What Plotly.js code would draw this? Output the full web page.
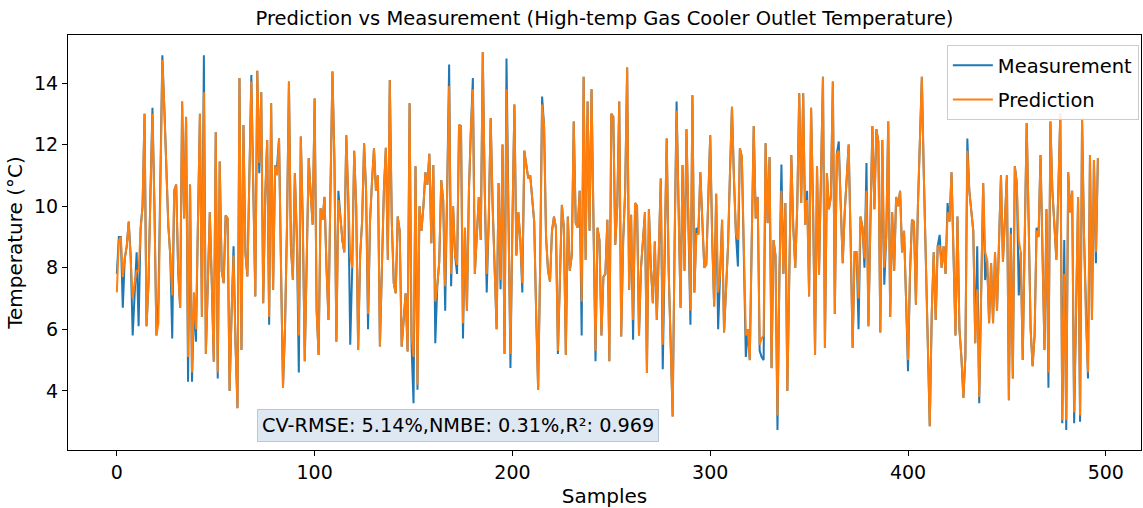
<!DOCTYPE html>
<html>
<head>
<meta charset="utf-8">
<script src="https://cdn.plot.ly/plotly-3.0.1.min.js"></script>
<style>html,body{margin:0;padding:0;background:#fff;}#chart{width:1143px;height:508px;}</style>
</head>
<body>
<div id="chart"></div>
<script>
const measurement = [
7.8, 9.0, 9.0, 6.7, 8.3, 8.7, 9.5, 8.4, 5.8, 7.2,
8.5, 6.1, 9.3, 10.0, 13.0, 6.1, 7.5, 10.5, 13.2, 10.0,
5.8, 6.9, 11.0, 14.9, 13.2, 11.1, 9.4, 8.4, 5.7, 10.5,
10.7, 7.9, 6.7, 13.4, 9.6, 12.9, 4.3, 10.7, 4.3,
6.9, 5.6, 9.5, 13.0, 6.4, 14.9, 5.2, 7.5, 9.8, 7.5, 4.95,
12.4, 4.4, 11.45, 7.9, 7.5, 9.7, 9.6, 4.0, 6.5, 8.7,
5.5, 3.44, 14.16, 5.33, 12.64, 8.47, 7.72, 11.1, 14.26, 10.5,
7.07, 14.4, 11.07, 13.7, 6.85, 10.3, 12.15, 6.15, 13.34, 7.28, 11.3,
11.3, 12.2, 8.0, 4.1, 6.0, 9.3, 14.05, 8.7, 7.6, 11.07,
9.0, 4.6, 12.26, 9.5, 4.96, 8.3, 11.56, 10.4, 9.4, 13.5,
6.63, 5.17, 9.93, 9.56, 10.3, 8.0, 6.3, 10.5, 14.37, 11.5,
5.6, 10.5, 9.66, 8.9, 8.5, 12.3, 10.2, 5.5, 8.0, 11.8, 10.0, 5.33, 8.4,
9.5, 12.04, 10.5, 6.0, 9.5, 10.8, 11.88, 10.5, 11.0, 5.44,
8.5, 10.5, 11.9, 8.26, 14.1, 9.5, 7.5, 7.17, 9.66, 9.2,
5.44, 6.5, 7.17, 5.28, 13.34, 5.44, 3.6, 11.3, 4.04, 10.0,
9.2, 10.0, 11.1, 10.7, 11.7, 8.8, 11.34, 5.55, 7.4, 8.2, 10.85, 10.2,
6.6, 10.5, 14.6, 7.4, 10.0, 8.4, 7.8, 12.64, 12.6, 5.7,
9.3, 6.6, 10.5, 12.5, 14.16, 7.8, 9.2, 10.3, 8.9, 15.0,
10.5, 7.2, 9.5, 12.86, 10.0, 7.9, 6.0, 10.75, 7.3, 12.0,
5.2, 14.8, 9.0, 4.74, 9.5, 13.3, 8.4, 9.8, 8.9, 7.2, 11.8, 11.3, 10.9,
11.0, 10.2, 9.5, 6.5, 4.04, 8.0, 13.56, 12.6, 9.0, 7.9,
7.55, 9.2, 9.66, 9.3, 5.2, 7.6, 10.04, 9.3, 5.17, 9.66,
7.9, 8.4, 12.75, 9.45, 9.3, 10.5, 5.8, 14.2, 8.26, 13.4,
9.2, 13.8, 9.0, 4.96, 9.3, 8.9, 5.8, 7.7, 7.8, 9.56, 4.96, 13.0,
12.9, 8.75, 10.0, 13.4, 5.77, 8.9, 10.5, 14.5, 7.28, 9.72,
5.66, 10.1, 10.0, 5.8, 8.0, 9.0, 9.8, 4.58, 9.9, 8.0,
6.85, 8.85, 6.3, 8.5, 10.9, 4.7, 8.4, 12.2, 7.9, 5.7,
3.17, 8.8, 13.4, 10.0, 6.7, 11.34, 7.9, 12.5, 8.9, 6.15, 13.6, 7.2, 9.3,
9.1, 11.1, 9.6, 8.0, 8.1, 10.0, 12.3, 8.9, 6.74, 10.4,
6.0, 7.8, 9.56, 5.9, 7.2, 8.7, 11.1, 13.23, 10.9, 9.1,
8.04, 11.88, 11.6, 8.4, 5.1, 6.0, 5.0, 8.9, 12.6, 9.6,
10.3, 5.3, 5.1, 5.0, 12.04, 9.45, 11.6, 4.74, 8.9, 8.4, 2.73, 7.8,
11.35, 7.8, 10.1, 4.0, 7.8, 11.66, 9.3, 8.0, 10.0, 13.67,
10.1, 13.67, 9.4, 10.5, 7.07, 13.2, 10.0, 5.17, 11.3, 7.77,
11.0, 14.2, 5.4, 11.07, 9.9, 10.3, 14.05, 6.5, 11.7, 12.1,
10.0, 8.15, 9.8, 11.0, 12.0, 8.9, 5.4, 8.5, 8.5, 6.0, 9.66, 9.3,
8.0, 11.4, 6.1, 9.5, 12.6, 9.9, 12.5, 12.1, 5.9, 12.15,
7.45, 9.0, 12.75, 6.4, 9.8, 7.9, 10.3, 10.0, 10.5, 8.5,
9.2, 7.0, 4.64, 7.8, 9.56, 9.5, 6.8, 10.0, 12.5, 14.2,
11.0, 8.0, 5.5, 2.85, 6.5, 8.5, 6.3, 8.7, 9.07, 8.0, 8.7, 7.8, 10.1,
9.5, 11.1, 8.5, 5.8, 9.66, 6.0, 5.1, 3.77, 5.1, 12.2,
10.5, 9.8, 9.2, 5.55, 8.7, 3.6, 8.0, 10.75, 7.6, 8.26,
6.2, 8.15, 6.2, 8.5, 6.6, 8.9, 11.0, 8.2, 9.7, 11.0,
3.7, 9.3, 4.4, 11.3, 10.75, 7.1, 8.5, 5.0, 8.9, 12.7, 9.5, 6.0,
4.8, 5.8, 9.3, 9.0, 11.66, 8.9, 5.33, 9.9, 4.1, 12.75,
10.5, 9.4, 8.26, 10.5, 13.0, 2.95, 8.9, 2.73, 11.1, 9.8,
10.5, 2.95, 7.0, 10.3, 3.0, 12.86, 9.0, 6.2, 4.4, 11.66, 6.3, 11.5, 8.15, 11.56
];

const prediction = [
7.2, 8.9, 9.0, 7.7, 8.3, 8.7, 9.5, 8.4, 7.0, 7.5,
7.9, 7.9, 9.2, 10.0, 13.0, 6.1, 7.5, 10.4, 13.0, 10.0,
5.8, 6.2, 11.0, 14.75, 13.2, 11.1, 9.4, 8.4, 7.1, 10.5,
10.7, 7.9, 6.7, 13.4, 9.6, 12.9, 5.1, 10.7, 4.6,
7.2, 6.0, 9.5, 13.0, 6.4, 13.7, 5.2, 7.5, 9.8, 7.5, 4.95,
12.4, 4.6, 11.45, 7.9, 7.5, 9.7, 9.6, 4.0, 6.5, 8.4,
5.5, 3.44, 14.16, 5.33, 12.64, 8.47, 7.72, 11.1, 14.05, 10.5,
7.07, 14.4, 11.4, 13.7, 6.85, 10.3, 12.15, 6.4, 13.34, 7.28, 11.3,
11.0, 12.2, 8.0, 4.1, 6.0, 9.3, 14.05, 8.7, 7.6, 11.07,
9.0, 5.8, 12.26, 9.5, 4.96, 8.3, 11.56, 10.4, 9.4, 13.5,
6.63, 5.17, 9.93, 9.56, 10.3, 8.0, 6.3, 10.5, 14.37, 11.5,
5.6, 10.2, 9.66, 8.9, 8.5, 12.3, 10.2, 8.4, 8.0, 11.8, 10.0, 5.33, 8.4,
9.5, 12.04, 10.5, 6.5, 9.5, 10.8, 11.88, 10.5, 11.0, 5.44,
8.5, 10.5, 11.9, 8.26, 14.1, 9.5, 7.5, 7.17, 9.66, 9.2,
5.44, 6.5, 7.17, 5.28, 13.34, 5.8, 5.1, 11.3, 4.2, 10.0,
9.2, 10.0, 11.1, 10.7, 11.7, 8.8, 11.34, 6.9, 7.4, 8.2, 10.85, 10.2,
7.4, 10.5, 13.9, 7.8, 10.0, 8.4, 8.1, 12.64, 12.6, 6.2,
9.3, 6.6, 10.5, 12.5, 13.8, 7.8, 9.2, 10.3, 8.9, 15.0,
10.5, 7.8, 9.5, 12.86, 10.0, 7.9, 6.0, 10.75, 7.6, 12.0,
5.2, 13.8, 9.0, 5.2, 9.5, 13.3, 8.4, 9.8, 8.9, 7.5, 11.8, 11.3, 10.9,
11.0, 10.2, 9.5, 6.5, 4.04, 8.0, 13.3, 12.6, 9.0, 7.9,
7.55, 9.2, 9.66, 9.3, 5.3, 7.6, 10.04, 9.3, 5.17, 9.66,
7.9, 8.4, 12.75, 9.45, 9.3, 10.5, 6.9, 14.2, 8.26, 13.4,
9.2, 13.8, 9.0, 5.3, 9.3, 8.9, 5.8, 7.7, 7.8, 9.56, 4.96, 13.0,
12.9, 8.75, 10.0, 13.4, 5.77, 8.9, 10.5, 14.5, 7.28, 9.72,
6.3, 10.1, 10.0, 5.8, 8.0, 9.0, 9.8, 4.58, 9.9, 8.0,
6.85, 8.85, 6.3, 8.5, 10.9, 5.5, 8.4, 12.2, 7.9, 5.7,
3.17, 8.8, 13.1, 10.0, 6.7, 11.34, 7.9, 12.5, 8.9, 6.6, 13.6, 7.2, 9.1,
9.1, 11.1, 9.6, 8.0, 8.1, 10.0, 12.3, 8.9, 6.74, 10.4,
7.2, 7.8, 9.56, 5.9, 7.2, 8.7, 11.1, 13.23, 10.9, 9.1,
8.9, 11.88, 11.6, 8.4, 5.8, 6.0, 5.0, 8.9, 12.6, 9.6,
10.3, 5.5, 5.7, 5.8, 12.04, 9.45, 11.6, 4.74, 8.9, 8.4, 3.2, 7.8,
10.5, 7.8, 10.1, 4.0, 7.8, 11.66, 9.3, 8.0, 10.0, 13.67,
10.1, 13.67, 9.4, 10.2, 7.07, 13.2, 10.0, 5.17, 11.3, 7.77,
11.0, 14.2, 5.4, 11.07, 9.9, 10.3, 14.05, 6.5, 11.7, 11.8,
10.0, 8.15, 9.8, 11.0, 12.0, 8.9, 5.4, 8.5, 8.5, 7.0, 9.66, 9.3,
8.3, 10.5, 6.1, 9.5, 12.6, 9.9, 12.5, 12.1, 5.9, 12.15,
8.0, 9.0, 12.75, 6.4, 9.8, 7.9, 10.3, 10.0, 10.5, 8.5,
9.2, 7.0, 5.0, 7.8, 9.56, 9.5, 6.8, 10.0, 12.5, 14.2,
11.0, 8.0, 5.5, 2.85, 6.5, 8.5, 6.3, 8.7, 8.7, 8.0, 8.7, 7.8, 9.8,
9.5, 11.1, 8.5, 5.8, 9.66, 6.0, 5.1, 3.77, 5.1, 11.8,
10.5, 9.8, 9.2, 5.55, 7.3, 3.8, 8.0, 10.75, 8.5, 8.26,
6.2, 8.15, 6.2, 8.5, 6.6, 8.9, 11.0, 8.2, 9.7, 11.0,
3.7, 9.1, 4.4, 11.3, 10.75, 8.9, 8.5, 5.0, 8.9, 12.7, 9.5, 6.0,
4.8, 5.8, 9.2, 9.0, 11.66, 8.9, 5.33, 9.9, 4.6, 12.75,
10.5, 9.4, 8.26, 10.5, 13.0, 3.05, 7.8, 3.05, 11.1, 9.8,
10.5, 3.3, 7.0, 10.3, 3.2, 12.86, 9.0, 6.2, 4.6, 11.66, 6.3, 11.5, 8.5, 11.56
];

const samples = measurement.map((_, i) => i);
const xTickVals = [0, 100, 200, 300, 400, 500];
const yTickVals = [4, 6, 8, 10, 12, 14];
const titleText = 'Prediction vs Measurement (High-temp Gas Cooler Outlet Temperature)';
const xLabel = 'Samples';
const yLabel = 'Temperature (°C)';
const metricsText = 'CV-RMSE: 5.14%,NMBE: 0.31%,R²: 0.969';

const font = 'DejaVu Sans, sans-serif';

const traces = [
  {x: samples, y: measurement, type: 'scatter', mode: 'lines', name: 'Measurement',
   legendgroup: 'm', line: {color: '#1f77b4', width: 2}},
  {x: samples, y: prediction, type: 'scatter', mode: 'lines', name: 'Prediction',
   legendgroup: 'p', line: {color: '#ff7f0e', width: 2}}
];

const layout = {
  width: 1143, height: 508,
  margin: {l: 68, r: 2, t: 35, b: 58},
  paper_bgcolor: '#fff', plot_bgcolor: '#fff',
  font: {family: font, color: '#000', size: 18},
  title: {text: titleText, font: {family: font, size: 19.5, color: '#000'},
          x: 0.5, xref: 'paper', y: 1 - 18/508, yref: 'container', yanchor: 'middle'},
  showlegend: true,
  legend: {x: 0.998, xanchor: 'right', y: 0.976, yanchor: 'top',
           bgcolor: 'rgba(255,255,255,0.85)', bordercolor: '#cccccc', borderwidth: 1,
           font: {family: font, size: 19.5, color: '#000'}, tracegroupgap: 6,
           itemwidth: 40},
  xaxis: {range: [-24.7, 517.8], tickvals: xTickVals, ticks: 'outside', ticklen: 5,
          tickcolor: '#000', showline: true, linecolor: '#000', linewidth: 1, mirror: true,
          showgrid: false, zeroline: false, tickfont: {size: 19},
          title: {text: xLabel, font: {size: 20}, standoff: 8}},
  yaxis: {range: [2.08, 15.56], tickvals: yTickVals, ticks: 'outside', ticklen: 5,
          tickcolor: '#000', showline: true, linecolor: '#000', linewidth: 1, mirror: true,
          showgrid: false, zeroline: false, tickfont: {size: 19},
          title: {text: yLabel, font: {size: 20}, standoff: 6}},
  annotations: [{
    text: metricsText, xref: 'paper', yref: 'paper',
    x: (257 - 68) / 1073, xanchor: 'left', y: (450 - 442) / 415, yanchor: 'bottom',
    showarrow: false, font: {family: font, size: 19.3, color: '#000'},
    bgcolor: 'rgb(222,232,242)', bordercolor: '#b8c8d8', borderwidth: 1, borderpad: 4
  }]
};

Plotly.newPlot('chart', traces, layout, {displayModeBar: false, staticPlot: true});
</script>
</body>
</html>
